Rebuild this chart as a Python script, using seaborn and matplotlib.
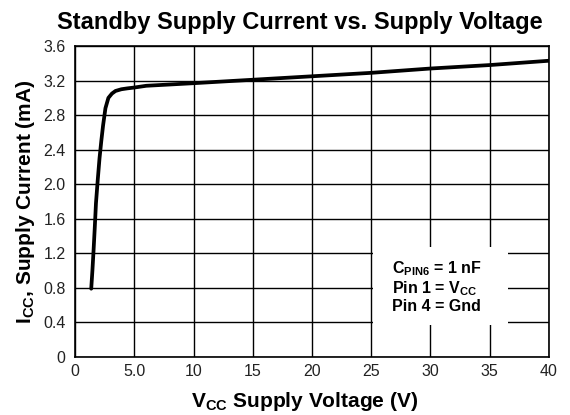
import matplotlib
matplotlib.use("Agg")
import matplotlib.pyplot as plt
from matplotlib.patches import Rectangle
import seaborn as sns
import pandas as pd

# values
vcc = [1.35, 1.45, 1.55, 1.65, 1.75, 1.9, 2.05, 2.2, 2.35, 2.55, 2.8, 3.1, 3.4, 3.9,
       4.4, 5.0, 6.0, 8.0, 10, 15, 20, 25, 30, 35, 40]
icc = [0.79, 1.0, 1.24, 1.5, 1.78, 2.05, 2.3, 2.5, 2.68, 2.88, 3.0, 3.05, 3.08, 3.10,
       3.11, 3.12, 3.14, 3.155, 3.17, 3.21, 3.25, 3.29, 3.34, 3.38, 3.43]

x_ticks = [0, 5, 10, 15, 20, 25, 30, 35, 40]
x_labels = ["0", "5.0", "10", "15", "20", "25", "30", "35", "40"]
y_ticks = [0, 0.4, 0.8, 1.2, 1.6, 2.0, 2.4, 2.8, 3.2, 3.6]
y_labels = ["0", "0.4", "0.8", "1.2", "1.6", "2.0", "2.4", "2.8", "3.2", "3.6"]

df = pd.DataFrame({"Vcc": vcc, "Icc": icc})

sns.set_theme(style="white")
plt.rcParams['font.family'] = ['Liberation Sans', 'DejaVu Sans']
plt.rcParams['text.color'] = 'black'
plt.rcParams['xtick.color'] = 'black'
plt.rcParams['ytick.color'] = 'black'

fig, ax = plt.subplots(figsize=(5.7, 4.15), dpi=100)
fig.subplots_adjust(left=0.132, right=0.963, top=0.889, bottom=0.14)

sns.lineplot(data=df, x="Vcc", y="Icc", color="black", linewidth=2.7, ax=ax, zorder=3)

ax.set_xlim(0, 40)
ax.set_ylim(0, 3.6)
ax.set_xticks(x_ticks)
ax.set_xticklabels(x_labels, fontsize=11.5, color="#222222")
ax.set_yticks(y_ticks)
ax.set_yticklabels(y_labels, fontsize=11.5, color="#222222")
ax.tick_params(axis="x", length=0, pad=5)
ax.tick_params(axis="y", length=0, pad=7)
ax.grid(True, color="black", linewidth=1.0)
for s in ax.spines.values():
    s.set_color("black")
    s.set_linewidth(1.2)
ax.set_xlabel("")
ax.set_ylabel("")

fig.text(0.526, 0.930, "Standby Supply Current vs. Supply Voltage", fontsize=17,
         fontweight="bold", ha="center", va="baseline")
fig.text(0.535, 0.019, r"V$_{\mathregular{CC}}$ Supply Voltage (V)", fontsize=15,
         fontweight="bold", ha="center", va="baseline")
fig.text(0.044, 0.513, r"I$_{\mathregular{CC}}$, Supply Current (mA)", fontsize=15,
         fontweight="bold", ha="center", va="center", rotation=90)

# white annotation box covering the grid
ax.add_patch(Rectangle((0.629, 0.103), 0.284, 0.251, transform=ax.transAxes,
                       facecolor="white", edgecolor="none", zorder=4))
ax.text(0.669, 0.225,
        "C$_{\\mathregular{PIN6}}$ = 1 nF\nPin 1 = V$_{\\mathregular{CC}}$\nPin 4 = Gnd",
        transform=ax.transAxes, fontsize=11.5, fontweight="bold", va="center",
        ha="left", linespacing=1.1, zorder=5)

fig.savefig("out.png", dpi=100)
